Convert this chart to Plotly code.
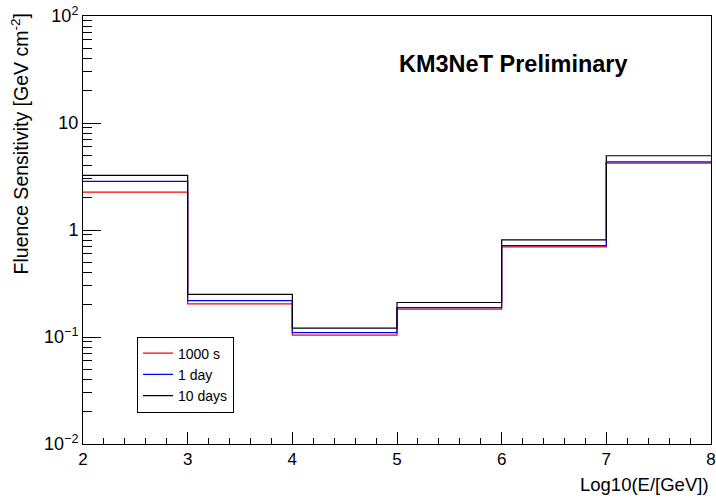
import plotly.graph_objects as go

bin_edges = [2, 3, 4, 5, 6, 7, 8]
sens_1000s = [2.26, 0.204, 0.104, 0.182, 0.694, 4.22]
sens_1day = [2.85, 0.219, 0.110, 0.188, 0.714, 4.34]
sens_10days = [3.24, 0.250, 0.121, 0.210, 0.810, 4.94]
series_names = ["1000 s", "1 day", "10 days"]
series_colors = ["#ff0000", "#0000ff", "#000000"]

y_major = [0.01, 0.1, 1, 10, 100]
y_major_text = ["10<sup>\u22122</sup>", "10<sup>\u22121</sup>", "1", "10", "10<sup>2</sup>"]
y_minor = [k * 10 ** e for e in range(-2, 2) for k in range(2, 10)]

FONT = "Liberation Sans, Arial, Helvetica, sans-serif"

fig = go.Figure()
for name, vals, col in zip(series_names, [sens_1000s, sens_1day, sens_10days], series_colors):
    fig.add_trace(go.Scatter(
        x=bin_edges, y=vals + [vals[-1]], mode="lines", line_shape="hv",
        line=dict(color=col, width=1.2), name=name,
    ))

fig.update_layout(
    width=716, height=498,
    margin=dict(l=83, r=5, t=16, b=54),
    paper_bgcolor="white", plot_bgcolor="white",
    font=dict(family=FONT, color="black"),
    showlegend=True,
    legend=dict(
        x=0.086, y=0.251, xanchor="left", yanchor="top",
        bgcolor="white", bordercolor="black", borderwidth=1,
        font=dict(size=14, family=FONT), itemwidth=30,
        tracegroupgap=0,
    ),
    xaxis=dict(
        range=[2, 8], showgrid=False, zeroline=False, automargin=False,
        showline=True, mirror=True, linecolor="black", linewidth=1,
        ticks="inside", ticklen=12, tickcolor="black", dtick=1, tick0=2,
        tickfont=dict(size=17, family=FONT),
        minor=dict(dtick=0.2, tick0=2, ticks="inside", ticklen=6, tickcolor="black", showgrid=False),
    ),
    yaxis=dict(
        type="log", range=[-2, 2], showgrid=False, zeroline=False, automargin=False,
        showline=True, mirror=True, linecolor="black", linewidth=1,
        ticks="inside", ticklen=18, tickcolor="black",
        tickmode="array", tickvals=y_major, ticktext=y_major_text,
        tickfont=dict(size=18, family=FONT),
        minor=dict(tickmode="array", tickvals=y_minor, ticks="inside", ticklen=9,
                   tickcolor="black", showgrid=False),
    ),
    annotations=[
        dict(text="<b>KM3NeT Preliminary</b>", xref="paper", yref="paper",
             x=0.685, y=0.888, xanchor="center", yanchor="middle", showarrow=False,
             font=dict(size=23.5, family=FONT)),
        dict(text="Log10(E/[GeV])", xref="paper", yref="paper",
             x=1.0, y=-0.095, xanchor="right", yanchor="middle", showarrow=False,
             font=dict(size=18.5, family=FONT)),
        dict(text="Fluence Sensitivity [GeV cm<sup>-2</sup>]", xref="paper", yref="paper",
             x=-0.1, y=1.01, xanchor="center", yanchor="top", textangle=-90, showarrow=False,
             font=dict(size=19.5, family=FONT)),
    ],
)

fig.write_html("out.html", config={"displayModeBar": False},
               post_script="document.body.style.margin='0';document.body.style.padding='0';")
